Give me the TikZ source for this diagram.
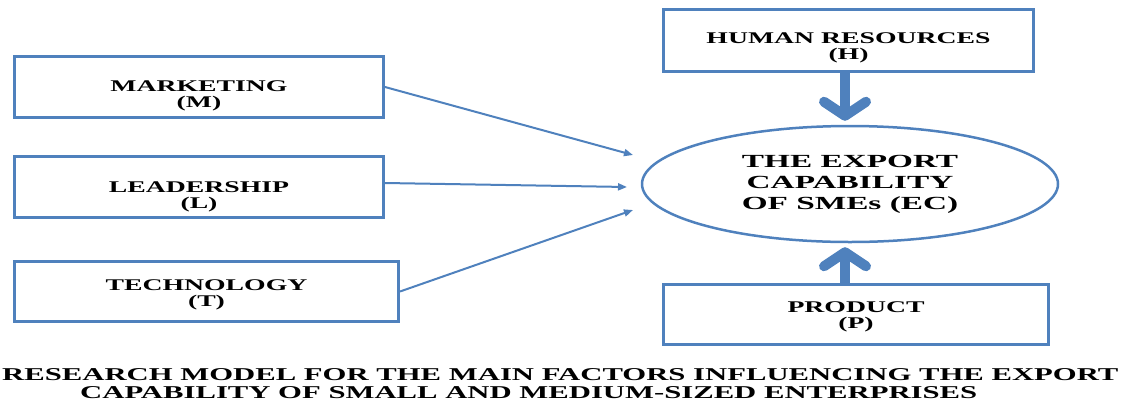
\documentclass[tikz,border=0pt]{standalone}
\usepackage{fontspec}
\setmainfont{Liberation Serif}[FakeStretch=1.7]
\newfontfamily\ecfont{Liberation Serif}[FakeStretch=1.8]
\usetikzlibrary{positioning,arrows.meta,shapes.geometric}
\definecolor{lineblue}{RGB}{79,129,189}

\begin{document}
\begin{tikzpicture}[x=1pt, y=-1pt, >=Triangle,
  factor/.style={draw=lineblue, line width=3pt, minimum height=61pt, inner sep=0pt, align=center,
    text depth=4pt, text height=#1, font=\bfseries\fontsize{16.3}{16}\selectfont},
  factor/.default=40pt,
  target/.style={draw=lineblue, line width=2.5pt, ellipse, minimum width=416pt, minimum height=116pt,
    inner sep=0pt, align=center, font=\ecfont\bfseries\fontsize{18.5}{21}\selectfont},
  thin/.style={draw=lineblue, line width=2pt, -{Triangle[length=9pt, width=7pt]}},
  thick/.style={draw=lineblue, line width=10pt, -{Straight Barb[length=14pt, width=42pt, round]}}]
\useasboundingbox (0,0) rectangle (1126,405);
% factors on the left
\node[factor=44pt, minimum width=369pt] (m) at (199,87) {MARKETING\\(M)};
\node[factor=46pt, minimum width=369pt] (l) at (199,187) {LEADERSHIP\\(L)};
\node[factor=33pt, minimum width=384pt, minimum height=60pt] (t) at (206.5,291.5) {TECHNOLOGY\\(T)};
% centre
\node[target] (ec) at (850,184) {THE EXPORT\\CAPABILITY\\OF SMEs (EC)};
\node[factor=41pt, minimum width=370pt, minimum height=62pt] (h) at (848.5,40.5) {HUMAN RESOURCES\\(H)};
\node[factor=31pt, minimum width=385pt, minimum height=60pt] (p) at (856,314.5) {PRODUCT\\(P)};
\coordinate (em) at (633,155);
\coordinate (el) at (627,187);
\coordinate (et) at (633,210);
\draw[thin] (m.east) -- (em);
\draw[thin] (l.east |- 0,183) -- (el);
\draw[thin] (t.east) -- (et);
\draw[thick, shorten >=4pt] (h.south -| 845,0) -- (ec.north -| 845,0);
\draw[thick, shorten >=4pt] (p.north -| 845,0) -- (ec.south -| 845,0);
% caption
\node[anchor=north west, align=left, inner sep=0pt, font=\bfseries\fontsize{18.05}{18}\selectfont] (cap) at (2,368)
  {RESEARCH MODEL FOR THE MAIN FACTORS INFLUENCING THE EXPORT\\\hspace*{78pt}CAPABILITY OF SMALL AND MEDIUM-SIZED ENTERPRISES};
\end{tikzpicture}
\end{document}
